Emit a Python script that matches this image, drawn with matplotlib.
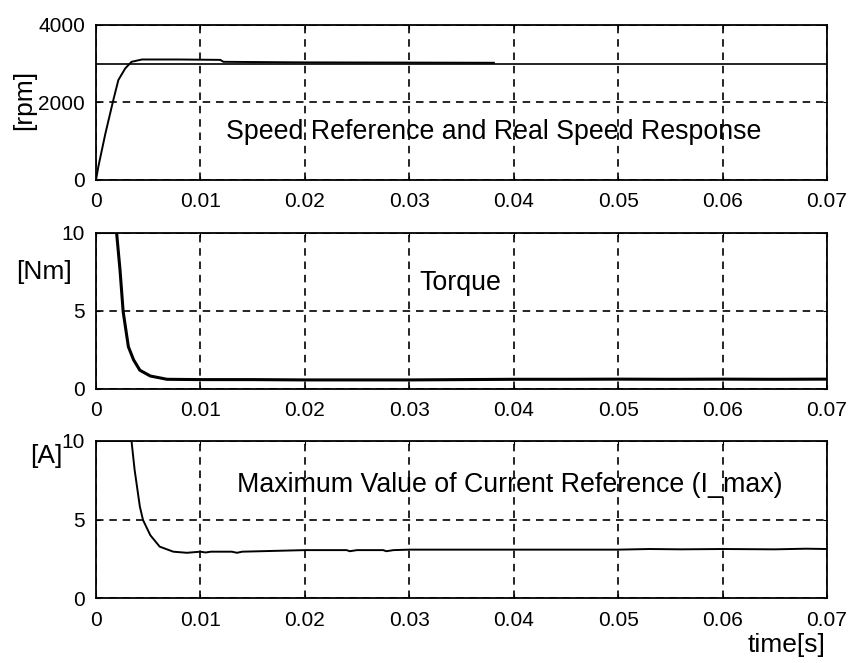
import matplotlib
matplotlib.use("Agg")
import matplotlib.pyplot as plt

plt.rcParams['font.family'] = ['Liberation Sans', 'DejaVu Sans']

# Time axis ticks
x_ticks = [0, 0.01, 0.02, 0.03, 0.04, 0.05, 0.06, 0.07]
x_tick_labels = ["0", "0.01", "0.02", "0.03", "0.04", "0.05", "0.06", "0.07"]

# Speed reference [rpm]
ref_t = [0.0, 0.07]
ref_speed = [3000, 3000]

# Measured speed [rpm]
speed_t = [0.0, 0.00022, 0.0009, 0.00166, 0.00214, 0.0028, 0.0034, 0.0044,
           0.0080, 0.0119, 0.0122, 0.0200, 0.0300, 0.0381]
speed_rpm = [0, 340, 1200, 2065, 2580, 2880, 3050, 3110,
             3110, 3100, 3050, 3035, 3030, 3025]

# Torque [Nm]
torque_t = [0.0, 0.00197, 0.0023, 0.0026, 0.0031, 0.0036, 0.0042, 0.0052,
            0.0068, 0.0100, 0.0150, 0.0200, 0.0250, 0.0300, 0.0350, 0.0400,
            0.0450, 0.0500, 0.0550, 0.0600, 0.0650, 0.0700]
torque_nm = [10.0, 10.0, 7.6, 4.95, 2.7, 1.86, 1.2, 0.83,
             0.62, 0.60, 0.60, 0.58, 0.58, 0.58, 0.60, 0.62,
             0.62, 0.63, 0.62, 0.63, 0.62, 0.63]

# Maximum value of current reference [A]
imax_t = [0.0, 0.0034, 0.0037, 0.0042, 0.0045, 0.0052, 0.0061, 0.0074,
          0.0087, 0.0100, 0.0105, 0.0110, 0.0130, 0.0135, 0.0140, 0.0200,
          0.0240, 0.0243, 0.0250, 0.0275, 0.0278, 0.0285, 0.0300, 0.0400,
          0.0500, 0.0530, 0.0560, 0.0600, 0.0650, 0.0680, 0.0700]
imax_a = [10.0, 10.0, 8.15, 5.82, 4.97, 4.0, 3.27, 2.95,
          2.88, 2.95, 2.90, 2.95, 2.95, 2.88, 2.95, 3.05,
          3.05, 2.98, 3.05, 3.05, 2.98, 3.05, 3.08, 3.08,
          3.08, 3.12, 3.10, 3.12, 3.10, 3.14, 3.12]

fig = plt.figure(figsize=(8.48, 6.63), dpi=100)

W, H = 848.0, 663.0
left, right = 96 / W, 827 / W
panels = [(25, 180), (232.5, 389), (441, 598)]
axes = []
for top, bot in panels:
    ax = fig.add_axes([left, 1 - bot / H, right - left, (bot - top) / H])
    axes.append(ax)

ax1, ax2, ax3 = axes

label_fs = 19
note_fs = 19.3

ax1.plot(ref_t, ref_speed, color='black', lw=1.2)
ax1.plot(speed_t, speed_rpm, color='black', lw=1.4)
ax1.set_ylim(0, 4000)
ax1.set_yticks([0, 2000, 4000])
ax1.set_yticklabels(["0", "2000", "4000"])
ax1.text(0.0381, 1250, "Speed Reference and Real Speed Response",
         ha='center', va='center', fontsize=note_fs)
fig.text(24 / W, 1 - 100 / H, "[rpm]", rotation=90, ha='center', va='center',
         fontsize=label_fs)

ax2.plot(torque_t, torque_nm, color='black', lw=2.2)
ax2.set_ylim(0, 10)
ax2.set_yticks([0, 5, 10])
ax2.set_yticklabels(["0", "5", "10"])
ax2.text(0.0349, 6.8, "Torque", ha='center', va='center', fontsize=note_fs)
fig.text(44 / W, 1 - 272 / H, "[Nm]", ha='center', va='center', fontsize=label_fs)

ax3.plot(imax_t, imax_a, color='black', lw=1.4)
ax3.set_ylim(0, 10)
ax3.set_yticks([0, 5, 10])
ax3.set_yticklabels(["0", "5", "10"])
ax3.text(0.0396, 7.2, "Maximum Value of Current Reference (I_max)",
         ha='center', va='center', fontsize=note_fs)
fig.text(46 / W, 1 - 456 / H, "[A]", ha='center', va='center', fontsize=label_fs)
fig.text(825 / W, 1 - 645 / H, "time[s]", ha='right', va='center', fontsize=label_fs)

for ax in axes:
    ax.set_xlim(0, 0.07)
    ax.set_xticks(x_ticks)
    ax.set_xticklabels(x_tick_labels)
    ax.tick_params(direction='in', length=3, labelsize=15, width=0.8,
                   top=True, right=True)
    ax.tick_params(axis='x', pad=9)
    ax.tick_params(axis='y', pad=8)
    ax.grid(True, color='black', linestyle=(0, (4.5, 3.5)), linewidth=1.2)
    for s in ax.spines.values():
        s.set_linewidth(1.3)

fig.savefig("out.png", dpi=100)
